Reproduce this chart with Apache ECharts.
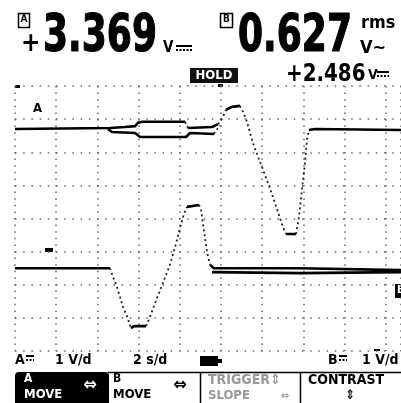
<!DOCTYPE html>
<html>
<head>
<meta charset="utf-8">
<script src="https://cdn.jsdelivr.net/npm/echarts@6/dist/echarts.min.js"></script>
<style>
html, body { margin: 0; padding: 0; background: #fff; }
#scope { width: 401px; height: 403px; }
</style>
</head>
<body>
<div id="scope"></div>
<script>
// channel A trace, upper envelope [time s, volts from centre]
var traceAMax = [
    [0, 2.70], [4.61, 2.73], [5.34, 2.76], [5.83, 2.79], [5.97, 2.89], [6.17, 2.92],
    [8.25, 2.92], [8.40, 2.73], [9.56, 2.76], [9.85, 2.85], [10.05, 3.01], [10.24, 3.28],
    [10.53, 3.37], [10.92, 3.40], [11.07, 3.22], [11.26, 2.92], [11.55, 2.28], [11.89, 1.71],
    [12.23, 1.16], [12.52, 0.65], [12.86, 0.02], [13.01, -0.26], [13.16, -0.47], [13.64, -0.47],
    [13.79, 0.05], [13.98, 1.16], [14.08, 1.68], [14.17, 2.37], [14.27, 2.67], [14.56, 2.70],
    [18.74, 2.67]
];
// channel A, lower envelope where it splits off
var traceAMin = [
    [4.51, 2.70], [4.71, 2.61], [5.83, 2.58], [6.07, 2.46], [8.30, 2.46], [8.50, 2.58],
    [9.66, 2.55], [9.95, 2.82]
];
// channel B trace
var traceBMax = [
    [0, -1.50], [4.61, -1.50], [4.76, -1.77], [4.95, -2.07], [5.10, -2.37], [5.24, -2.67],
    [5.44, -2.95], [5.63, -3.31], [5.78, -3.25], [6.36, -3.25], [6.55, -2.98], [6.80, -2.55],
    [7.18, -1.95], [7.52, -1.40], [7.77, -0.86], [8.01, -0.29], [8.20, 0.14], [8.35, 0.35],
    [8.93, 0.41], [9.03, 0.26], [9.17, -0.35], [9.32, -1.01], [9.47, -1.40], [9.66, -1.50],
    [13.83, -1.50], [18.74, -1.56]
];
var traceBMin = [
    [9.56, -1.62], [13.83, -1.65], [18.74, -1.62]
];

var secPerDiv = 2;
var voltPerDiv = 1;
var pxPerSec = 20.6, pxPerVolt = 33.1;

// split a trace into flat runs (drawn solid) and fast edges (sampled, drawn dotted)
function splitRuns(points, steep) {
    var runs = [], cur = [];
    for (var i = 1; i < points.length; i++) {
        var p0 = points[i - 1], p1 = points[i];
        var dx = Math.abs(p1[0] - p0[0]) * pxPerSec || 0.01;
        var isSteep = Math.abs(p1[1] - p0[1]) * pxPerVolt / dx > 1.2;
        if (isSteep === steep) {
            if (!cur.length) cur.push(p0);
            cur.push(p1);
        } else if (cur.length) {
            runs.push(cur);
            cur = [];
        }
    }
    if (cur.length) runs.push(cur);
    return runs;
}

var series = [];
[traceAMax, traceAMin, traceBMax, traceBMin].forEach(function (trace) {
    splitRuns(trace, false).forEach(function (run) {
        series.push({
            type: 'line', data: run, showSymbol: false, silent: true,
            lineStyle: { color: '#000', width: 2.6 }
        });
    });
    splitRuns(trace, true).forEach(function (run) {
        series.push({
            type: 'line', data: run, showSymbol: false, silent: true,
            lineStyle: { color: '#222', width: 1.8, type: [2, 3] }
        });
    });
});

var LCD = '"DejaVu Sans Condensed", "DejaVu Sans", sans-serif';

function txt(x, y, text, size, opts) {
    opts = opts || {};
    return {
        type: 'text', x: x, y: y, scaleX: opts.scaleX || 1,
        style: {
            text: text, fill: opts.fill || '#000',
            stroke: opts.stroke || null, lineWidth: opts.lw || 0,
            fontSize: size, fontWeight: opts.weight || 'bold', fontFamily: LCD,
            align: opts.align || 'left', verticalAlign: opts.valign || 'top'
        }
    };
}
function box(x, y, w, h, fill, extra) {
    return {
        type: 'rect', shape: { x: x, y: y, width: w, height: h, r: (extra && extra.r) || 0 },
        style: { fill: fill, stroke: (extra && extra.stroke) || null, lineWidth: (extra && extra.lw) || 0 }
    };
}
function seg(x1, y1, x2, y2, w, dash) {
    return {
        type: 'line', shape: { x1: x1, y1: y1, x2: x2, y2: y2 },
        style: { stroke: '#000', lineWidth: w || 1.5, lineDash: dash || null }
    };
}
// DC symbol: solid bar over dashed bar
function dc(x, y, w) {
    return [seg(x, y, x + w, y, 2), seg(x, y + 4, x + w, y + 4, 2, [2, 1.5])];
}

var graphics = [
    // channel A reading
    box(18.5, 13.5, 11, 14, 'none', { stroke: '#000', lw: 1.5 }),
    txt(24, 14.5, 'A', 10, { align: 'center' }),
    txt(21, 31, '+', 26),
    txt(43, 11, '3.369', 52, { scaleX: 0.77, stroke: '#000', lw: 1.2 }),
    txt(163, 41, 'V', 15),
    // channel B reading
    box(220.5, 13.5, 12, 14, 'none', { stroke: '#000', lw: 1.5 }),
    txt(226.5, 14.5, 'B', 10, { align: 'center' }),
    txt(238, 11, '0.627', 52, { scaleX: 0.77, stroke: '#000', lw: 1.2 }),
    txt(361, 15, 'rms', 17, { scaleX: 1.05 }),
    txt(360, 39, 'V~', 18),
    // hold + second reading
    box(190, 68, 48, 15, '#111'),
    txt(214, 69, 'HOLD', 13, { align: 'center', fill: '#fff' }),
    txt(286, 63, '+2.486', 24, { scaleX: 0.92 }),
    txt(368, 68, 'V', 14),
    // trace markers on screen
    txt(33, 102, 'A', 13),
    box(45, 248, 8, 4, '#000'),
    box(395, 284, 8, 14, '#000'),
    txt(397, 285, 'B', 11, { fill: '#fff' }),
    box(15, 85, 5, 3, '#000'),
    box(218, 84, 5, 3, '#000'),
    box(374, 349, 6, 2, '#000'),
    // bottom status line
    txt(15, 353, 'A', 14),
    txt(55, 353, '1 V/d', 14),
    txt(133, 353, '2 s/d', 14),
    box(200, 356, 18, 10, '#000'),
    box(218, 359, 4, 4, '#000'),
    txt(328, 353, 'B', 14),
    txt(362, 353, '1 V/d', 14),
    // soft keys
    box(15, 372, 94, 34, '#000', { r: [4, 4, 0, 0] }),
    txt(24, 373, 'A', 12, { fill: '#fff' }),
    txt(24, 388, 'MOVE', 13, { fill: '#fff' }),
    txt(90, 385, '\u21d4', 18, { fill: '#fff', align: 'center', valign: 'middle' }),
    seg(108, 372.5, 401, 372.5, 1.5),
    seg(200.5, 372, 200.5, 403, 1.5),
    seg(300.5, 372, 300.5, 403, 1.5),
    txt(113, 373, 'B', 12),
    txt(113, 388, 'MOVE', 13),
    txt(180, 385, '\u21d4', 18, { align: 'center', valign: 'middle' }),
    txt(208, 373, 'TRIGGER\u21d5', 14, { fill: '#999' }),
    txt(208, 389, 'SLOPE', 13, { fill: '#999' }),
    txt(285, 396, '\u21d4', 11, { fill: '#999', align: 'center', valign: 'middle' }),
    txt(308, 373, 'CONTRAST', 14),
    txt(350, 396, '\u21d5', 13, { align: 'center', valign: 'middle' })
];
graphics = graphics.concat(dc(176, 46, 16), dc(377, 72, 12), dc(26, 356, 8), dc(339, 356, 8));

var chart = echarts.init(document.getElementById('scope'));
chart.setOption({
    animation: false,
    backgroundColor: '#fff',
    grid: { left: 15, top: 86, width: 386, height: 265 },
    xAxis: {
        type: 'value', min: 0, max: 386 / pxPerSec, interval: secPerDiv,
        axisLine: { show: false }, axisTick: { show: false }, axisLabel: { show: false },
        splitLine: { show: true, lineStyle: { color: '#666', width: 1.5, type: [1.5, 5.1] } }
    },
    yAxis: {
        type: 'value', min: -4, max: 4, interval: voltPerDiv,
        axisLine: { show: false }, axisTick: { show: false }, axisLabel: { show: false },
        splitLine: { show: true, lineStyle: { color: '#666', width: 1.5, type: [1.5, 6.7] } }
    },
    graphic: graphics,
    series: series
});
</script>
</body>
</html>
